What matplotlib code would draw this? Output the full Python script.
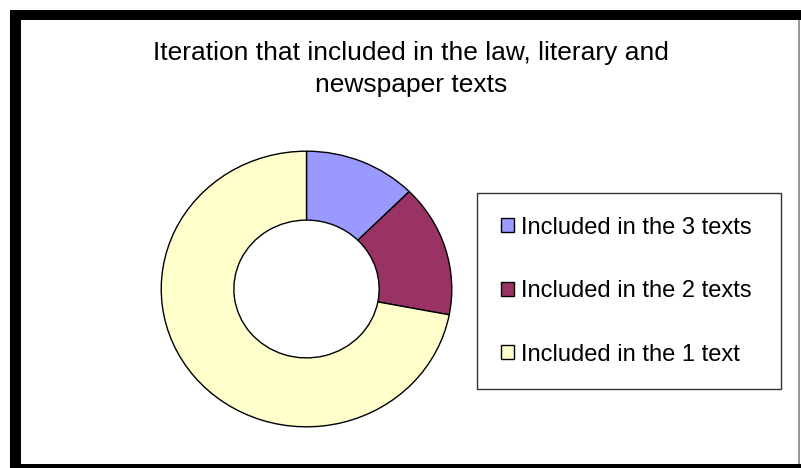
import matplotlib
matplotlib.use('Agg')
import matplotlib.pyplot as plt
from matplotlib.patches import Rectangle

# shares (percent)
labels = ['Included in the 3 texts', 'Included in the 2 texts', 'Included in the 1 text']
shares = [12.5, 15.5, 72.0]
colors = ['#9999FF', '#993366', '#FFFFCC']
title_lines = ['Iteration that included in the law, literary and', 'newspaper texts']

W, H = 801, 468
fig = plt.figure(figsize=(W/100, H/100), dpi=100)
fig.patch.set_facecolor('white')

def px(x0, y0, x1, y1):
    # pixel box (top-left origin) -> figure fraction rect
    return [x0/W, 1 - y1/H, (x1-x0)/W, (y1-y0)/H]

# black frame round the chart area
for x0, y0, x1, y1, c in [(10, 10, 21, 468, 'black'), (10, 10, 801, 20, 'black'),
                          (10, 464, 801, 468, 'black'), (798, 20, 800, 464, '#9a9a9a')]:
    r = px(x0, y0, x1, y1)
    fig.patches.append(Rectangle((r[0], r[1]), r[2], r[3], transform=fig.transFigure,
                                 facecolor=c, edgecolor='none'))

for line, base in zip(title_lines, [60, 92]):
    fig.text(411/W, 1 - base/H, line, ha='center', va='baseline', fontsize=19,
             family='Liberation Sans')

ax = fig.add_axes(px(160.5, 150.5, 452.5, 427.5))
wedges, _ = ax.pie(shares, colors=colors, startangle=90, counterclock=False,
                   wedgeprops=dict(width=0.5, edgecolor='black', linewidth=1.0))
ax.set_aspect('auto')
ax.set_xlim(-1.005, 1.005)
ax.set_ylim(-1.005, 1.005)
ax.axis('off')

leg = fig.legend(wedges, labels, loc='upper left', mode='expand',
                 bbox_to_anchor=(477/W, 1 - 193/H - 0.01, (781-477)/W, 0.01),
                 bbox_transform=fig.transFigure,
                 prop={'family': 'Liberation Sans', 'size': 17},
                 frameon=True, fancybox=False, edgecolor='black',
                 handlelength=0.55, handleheight=0.55, handletextpad=0.3,
                 labelspacing=1.76, borderpad=1.0, borderaxespad=0)
leg.get_frame().set_linewidth(1.0)

fig.savefig('out.png', dpi=100)
